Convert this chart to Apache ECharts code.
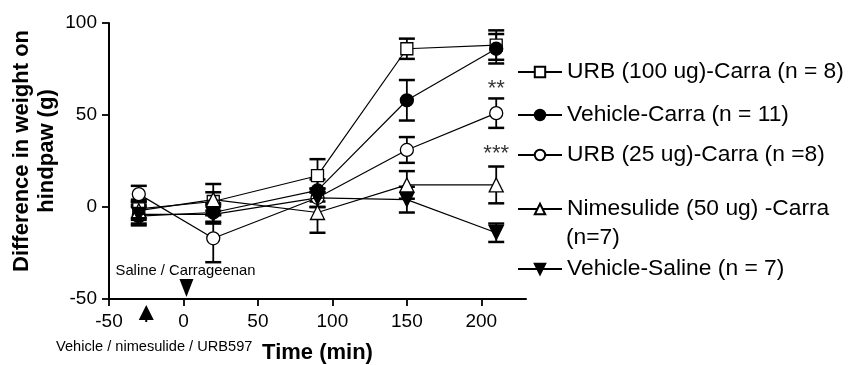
<!DOCTYPE html>
<html>
<head>
<meta charset="utf-8">
<script src="https://cdn.jsdelivr.net/npm/echarts@6/dist/echarts.min.js"></script>
<style>
html,body{margin:0;padding:0;background:#fff;}
#chart{width:848px;height:365px;}
</style>
</head>
<body>
<div id="chart"></div>
<script>
// ---- data ----
const times = [-30, 20, 90, 150, 210];
const xTicks = [-50, 0, 50, 100, 150, 200];
const yTicks = [-50, 0, 50, 100];

const urb100Name = 'URB (100 ug)-Carra (n = 8)';
const urb100 = [-1, 3, 17, 86, 88];
const urb100Sem = [5, 5, 9, 5.5, 8];

const vehCarraName = 'Vehicle-Carra (n = 11)';
const vehCarra = [-5, -3, 9, 58, 86];
const vehCarraSem = [5, 5, 6, 11, 8];

const urb25Name = 'URB (25 ug)-Carra (n =8)';
const urb25 = [7, -17, 5, 31, 51];
const urb25Sem = [4.5, 13, 5, 7, 8];

const nimeName = 'Nimesulide (50 ug) -Carra';
const nimeExtra = '(n=7)';
const nime = [-2, 4, -3, 12, 12];
const nimeSem = [5, 8.5, 11, 7.5, 10];

const vehSalName = 'Vehicle-Saline (n = 7)';
const vehSal = [-4, -4, 5, 4, -14];
const vehSalSem = [5, 5, 5, 7, 5];

// significance annotations (time, value, text)
const sigTimes = [210, 210];
const sigValues = [64, 29];
const sigTexts = ['**', '***'];

// injection arrows
const arrowUpTime = -25;
const arrowDownTime = 2;
const arrowUpLabel = 'Vehicle / nimesulide / URB597';
const arrowDownLabel = 'Saline / Carrageenan';

// ---- chart ----
const FONT = 'Liberation Sans, Arial, Helvetica, sans-serif';
const chart = echarts.init(document.getElementById('chart'), null, {renderer: 'canvas'});

const defs = [
  {name: urb100Name, vals: urb100, sem: urb100Sem, symbol: 'rect', size: 12, fill: '#fff', rot: 0},
  {name: vehCarraName, vals: vehCarra, sem: vehCarraSem, symbol: 'circle', size: 13, fill: '#000', rot: 0},
  {name: urb25Name, vals: urb25, sem: urb25Sem, symbol: 'circle', size: 13, fill: '#fff', rot: 0},
  {name: nimeName, vals: nime, sem: nimeSem, symbol: 'triangle', size: 14, fill: '#fff', rot: 0},
  {name: vehSalName, vals: vehSal, sem: vehSalSem, symbol: 'triangle', size: 14, fill: '#000', rot: 180}
];

function errRender(params, api) {
  const x = api.value(0);
  const lo = api.coord([x, api.value(1)]);
  const hi = api.coord([x, api.value(2)]);
  const h = 8;
  const st = {stroke: '#000', lineWidth: 1.8};
  const cap = {stroke: '#000', lineWidth: 2.5};
  return {
    type: 'group',
    children: [
      {type: 'line', shape: {x1: lo[0], y1: lo[1], x2: hi[0], y2: hi[1]}, style: st},
      {type: 'line', shape: {x1: lo[0] - h, y1: lo[1], x2: lo[0] + h, y2: lo[1]}, style: cap},
      {type: 'line', shape: {x1: hi[0] - h, y1: hi[1], x2: hi[0] + h, y2: hi[1]}, style: cap}
    ]
  };
}

const series = [];
defs.forEach(d => {
  series.push({
    type: 'custom',
    name: d.name + ' err',
    renderItem: errRender,
    data: times.map((t, i) => [t, d.vals[i] - d.sem[i], d.vals[i] + d.sem[i]]),
    encode: {x: 0, y: [1, 2]},
    z: 1,
    silent: true
  });
});
defs.forEach((d, k) => {
  series.push({
    type: 'line',
    name: d.name,
    data: times.map((t, i) => [t, d.vals[i]]),
    symbol: d.symbol,
    symbolSize: d.size,
    symbolRotate: d.rot,
    showAllSymbol: true,
    color: '#000',
    lineStyle: {color: '#000', width: 1.2},
    itemStyle: {color: d.fill, borderColor: '#000', borderWidth: 1.3},
    z: 3 + k,
    animation: false
  });
});

// significance marks as text-only points
series.push({
  type: 'scatter',
  name: 'sig',
  data: sigTimes.map((t, i) => ({value: [t, sigValues[i]], label: {formatter: sigTexts[i]}})),
  symbolSize: 1,
  itemStyle: {color: 'rgba(0,0,0,0)'},
  label: {show: true, position: 'inside', color: '#000', fontSize: 22, fontFamily: FONT},
  silent: true,
  z: 10
});

const legendTops = [59, 102, 142, 196, 256];
const legends = defs.map((d, i) => ({
  data: [d.name],
  left: 517,
  top: legendTops[i],
  orient: 'vertical',
  itemWidth: 44,
  itemHeight: 13,
  itemGap: 0,
  selectedMode: false,
  textStyle: {fontSize: 22.8, color: '#000', fontFamily: FONT, lineHeight: 26},
  padding: 0
}));

const option = {
  animation: false,
  backgroundColor: '#fff',
  textStyle: {fontFamily: FONT},
  grid: {left: 109, right: 322, top: 23, bottom: 66, containLabel: false, outerBoundsMode: 'none'},
  legend: legends,
  xAxis: {
    type: 'value',
    min: -50, max: 230, interval: 50,
    name: 'Time (min)',
    nameLocation: 'middle',
    nameGap: 43,
    nameTextStyle: {fontSize: 22, fontWeight: 'bold', color: '#000', fontFamily: FONT},
    axisLine: {show: true, onZero: false, lineStyle: {color: '#000', width: 2}},
    axisTick: {show: true, length: 7, lineStyle: {color: '#000', width: 1.8}, customValues: xTicks},
    axisLabel: {fontSize: 19, color: '#000', margin: 13, fontFamily: FONT, customValues: xTicks},
    splitLine: {show: false}
  },
  yAxis: {
    type: 'value',
    min: -50, max: 100, interval: 50,
    name: 'Difference in weight on\nhindpaw (g)',
    nameLocation: 'middle',
    nameGap: 50,
    nameRotate: 90,
    nameTextStyle: {fontSize: 22, fontWeight: 'bold', color: '#000', fontFamily: FONT, lineHeight: 25, padding: [0, 0, 0, 20]},
    axisLine: {show: true, onZero: false, lineStyle: {color: '#000', width: 2}},
    axisTick: {show: true, length: 7, lineStyle: {color: '#000', width: 1.8}, customValues: yTicks},
    axisLabel: {fontSize: 19, color: '#000', margin: 12, fontFamily: FONT, customValues: yTicks},
    splitLine: {show: false}
  },
  series: series
};
chart.setOption(option);

// annotations positioned via the chart's own scales
const upTip = chart.convertToPixel({gridIndex: 0}, [arrowUpTime, -50]);
const downTip = chart.convertToPixel({gridIndex: 0}, [arrowDownTime, -50]);
const graphics = [
  {type: 'polygon', shape: {points: [[upTip[0], upTip[1] + 6], [upTip[0] - 7.5, upTip[1] + 21], [upTip[0] + 7.5, upTip[1] + 21]]}, style: {fill: '#000'}},
  {type: 'rect', shape: {x: upTip[0] - 1, y: upTip[1] + 20, width: 2, height: 3}, style: {fill: '#000'}},
  {type: 'polygon', shape: {points: [[downTip[0], downTip[1] - 2], [downTip[0] - 7, downTip[1] - 20], [downTip[0] + 7, downTip[1] - 20]]}, style: {fill: '#000'}},
  {type: 'text', x: downTip[0] - 1, y: downTip[1] - 28, style: {text: arrowDownLabel, fill: '#000', font: '14.8px ' + FONT, align: 'center', verticalAlign: 'middle'}},
  {type: 'text', x: upTip[0] + 8, y: upTip[1] + 48, style: {text: arrowUpLabel, fill: '#000', font: '14.6px ' + FONT, align: 'center', verticalAlign: 'middle'}},
  {type: 'text', x: 566, y: 238, style: {text: nimeExtra, fill: '#000', font: '22.8px ' + FONT, align: 'left', verticalAlign: 'middle'}}
];
chart.setOption({graphic: graphics});
</script>
</body>
</html>
